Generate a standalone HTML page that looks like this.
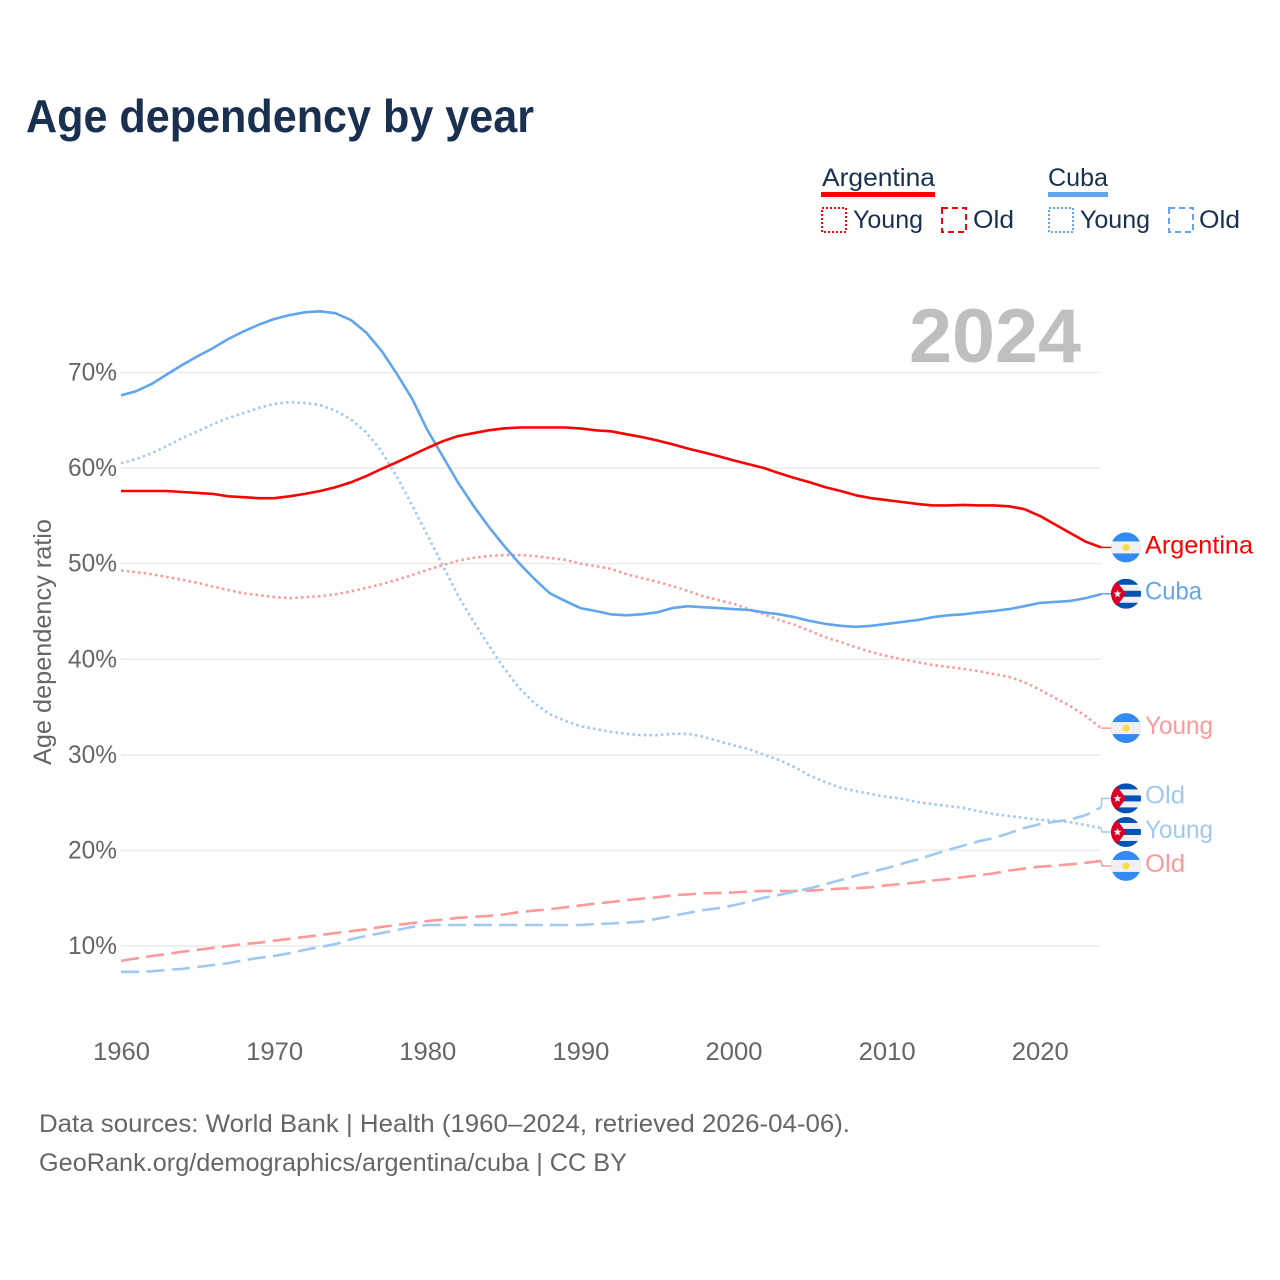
<!DOCTYPE html>
<html lang="en">
<head>
<meta charset="utf-8">
<title>Age dependency by year</title>
<style>
html,body{margin:0;padding:0;background:#fff;}
svg{display:block;}
text{font-family:"Liberation Sans",Arial,sans-serif;}
</style>
</head>
<body>
<svg id="chart" xmlns="http://www.w3.org/2000/svg" width="1280" height="1280" viewBox="0 0 1280 1280">
  <defs>
    <clipPath id="flag-clip"><circle cx="0" cy="0" r="15"></circle></clipPath>
    <g id="flag-ar">
      <g clip-path="url(#flag-clip)">
        <rect x="-15" y="-15" width="30" height="30" fill="#338af3"></rect>
        <rect x="-15" y="-6" width="30" height="12" fill="#f0f0f0"></rect>
        <circle cx="0" cy="0" r="3.6" fill="#ffda44"></circle>
      </g>
    </g>
    <g id="flag-cu">
      <g clip-path="url(#flag-clip)">
        <rect x="-15" y="-15" width="30" height="30" fill="#f0f0f0"></rect>
        <rect x="-15" y="-15" width="30" height="6" fill="#0052b4"></rect>
        <rect x="-15" y="-3" width="30" height="6" fill="#0052b4"></rect>
        <rect x="-15" y="9" width="30" height="6" fill="#0052b4"></rect>
        <polygon points="-15,-15 -10,-13.5 0,0 -10,13.5 -15,15" fill="#d80027"></polygon>
        <polygon points="-8.5,-4 -7.4,-1.2 -4.6,-1.2 -6.8,0.7 -6,3.6 -8.5,2 -11,3.6 -10.2,0.7 -12.4,-1.2 -9.6,-1.2" fill="#f0f0f0"></polygon>
      </g>
    </g>
  </defs>

  <text x="26" y="132" font-size="46" font-weight="700" fill="#1a3050" textLength="508" lengthAdjust="spacingAndGlyphs">Age dependency by year</text>

  <g font-size="25" fill="#1a3050">
    <text x="822" y="186" textLength="113" lengthAdjust="spacingAndGlyphs">Argentina</text>
    <rect x="821" y="192" width="114" height="5" fill="#ff0000"></rect>
    <rect x="822" y="208" width="24" height="24" fill="none" stroke="#ff0000" stroke-width="2" stroke-dasharray="2 2"></rect>
    <text x="853" y="228" textLength="70" lengthAdjust="spacingAndGlyphs">Young</text>
    <rect x="942" y="208" width="24" height="24" fill="none" stroke="#ff0000" stroke-width="2" stroke-dasharray="6 4"></rect>
    <text x="973" y="228" textLength="41" lengthAdjust="spacingAndGlyphs">Old</text>
    <text x="1048" y="186" textLength="60" lengthAdjust="spacingAndGlyphs">Cuba</text>
    <rect x="1048" y="192" width="60" height="5" fill="#60a5ee"></rect>
    <rect x="1049" y="208" width="24" height="24" fill="none" stroke="#60a5ee" stroke-width="2" stroke-dasharray="2 2"></rect>
    <text x="1080" y="228" textLength="70" lengthAdjust="spacingAndGlyphs">Young</text>
    <rect x="1169" y="208" width="24" height="24" fill="none" stroke="#60a5ee" stroke-width="2" stroke-dasharray="6 4"></rect>
    <text x="1199" y="228" textLength="41" lengthAdjust="spacingAndGlyphs">Old</text>
  </g>

  <g id="grid"></g>

  <text x="909" y="362" font-size="76" font-weight="700" fill="#bfbfbf" textLength="172" lengthAdjust="spacingAndGlyphs">2024</text>

  <g id="y-ticks"></g>
  <g id="x-ticks"></g>
  <text transform="translate(51,765) rotate(-90)" font-size="25" fill="#666666" textLength="246" lengthAdjust="spacingAndGlyphs">Age dependency ratio</text>

  <g id="series"></g>
  <g id="end-labels"></g>

  <text x="39" y="1132" font-size="25" fill="#666666" textLength="811" lengthAdjust="spacingAndGlyphs">Data sources: World Bank | Health (1960–2024, retrieved 2026-04-06).</text>
  <text x="39" y="1171" font-size="25" fill="#666666" textLength="588" lengthAdjust="spacingAndGlyphs">GeoRank.org/demographics/argentina/cuba | CC BY</text>
</svg>

<script>
const startYear = 1960;
const xTickYears = [1960, 1970, 1980, 1990, 2000, 2010, 2020];
const yTickValues = [10, 20, 30, 40, 50, 60, 70];

const argentinaTotal = [
  57.6,57.6,57.6,57.6,57.5,57.4,57.3,57.05,56.95,56.85,
  56.85,57.05,57.3,57.6,58.0,58.5,59.15,59.9,60.6,61.35,
  62.1,62.8,63.35,63.65,63.95,64.15,64.25,64.25,64.25,64.25,
  64.15,63.95,63.85,63.55,63.25,62.9,62.5,62.05,61.65,61.25,
  60.8,60.4,60.0,59.45,58.95,58.5,58.0,57.6,57.15,56.85,
  56.65,56.45,56.25,56.1,56.1,56.15,56.1,56.1,56.0,55.7,
  55.0,54.1,53.2,52.3,51.7
];
const argentinaYoung = [
  49.3,49.1,48.9,48.6,48.3,48.0,47.6,47.25,46.9,46.7,
  46.5,46.4,46.5,46.6,46.8,47.1,47.45,47.85,48.3,48.8,
  49.35,49.85,50.3,50.6,50.8,50.9,50.9,50.8,50.6,50.4,
  50.0,49.75,49.45,48.9,48.5,48.1,47.65,47.15,46.6,46.2,
  45.8,45.25,44.7,44.1,43.6,42.95,42.3,41.8,41.25,40.75,
  40.35,40.0,39.7,39.4,39.2,39.0,38.75,38.45,38.15,37.6,
  36.8,35.95,35.1,34.05,32.8
];
const argentinaOld = [
  8.45,8.7,8.95,9.15,9.4,9.6,9.8,10.0,10.2,10.35,
  10.55,10.75,10.95,11.15,11.35,11.55,11.75,12.0,12.2,12.4,
  12.6,12.75,12.95,13.05,13.15,13.3,13.55,13.7,13.85,14.05,
  14.25,14.45,14.6,14.8,14.95,15.1,15.3,15.4,15.5,15.55,
  15.6,15.7,15.75,15.75,15.75,15.8,15.9,16.0,16.05,16.15,
  16.35,16.5,16.65,16.85,17.0,17.2,17.4,17.6,17.9,18.1,
  18.3,18.4,18.55,18.7,18.9
];
const cubaTotal = [
  67.6,68.05,68.8,69.8,70.8,71.7,72.55,73.5,74.3,75.0,
  75.6,76.0,76.3,76.4,76.2,75.5,74.2,72.3,69.9,67.3,
  64.0,61.25,58.5,56.1,53.9,51.9,50.05,48.4,46.9,46.1,
  45.35,45.05,44.7,44.6,44.7,44.9,45.35,45.55,45.45,45.35,
  45.25,45.15,44.9,44.7,44.4,44.0,43.7,43.5,43.4,43.5,
  43.7,43.9,44.1,44.4,44.6,44.7,44.9,45.05,45.25,45.55,
  45.9,46.0,46.1,46.4,46.8
];
const cubaYoung = [
  60.5,60.95,61.55,62.3,63.15,63.85,64.6,65.25,65.75,66.3,
  66.7,66.9,66.8,66.6,66.0,65.1,63.75,61.8,59.15,56.15,
  53.0,49.85,46.7,44.0,41.5,39.1,37.0,35.4,34.25,33.55,
  33.0,32.7,32.4,32.2,32.05,32.05,32.2,32.2,31.9,31.45,
  31.0,30.6,30.0,29.45,28.7,27.8,27.15,26.55,26.2,25.9,
  25.6,25.4,25.05,24.85,24.65,24.45,24.1,23.8,23.6,23.4,
  23.2,23.1,22.95,22.65,22.35
];
const cubaOld = [
  7.3,7.3,7.35,7.5,7.6,7.8,8.0,8.2,8.5,8.75,
  8.95,9.25,9.6,9.9,10.2,10.7,11.05,11.35,11.65,12.0,
  12.2,12.2,12.2,12.2,12.2,12.2,12.2,12.2,12.2,12.2,
  12.2,12.3,12.35,12.45,12.55,12.85,13.15,13.45,13.75,13.95,
  14.25,14.65,15.05,15.35,15.7,16.05,16.45,16.9,17.35,17.75,
  18.15,18.6,19.05,19.55,20.05,20.5,20.95,21.3,21.8,22.35,
  22.75,23.0,23.25,23.7,24.5
];

const SVG_NS = 'http://www.w3.org/2000/svg';
const x0 = 121, pxPerYear = 980 / 64;
const y10 = 946, pxPerPct = 573.5 / 60;
function xScale(year) { return x0 + (year - startYear) * pxPerYear; }
function yScale(pct) { return y10 - (pct - 10) * pxPerPct; }
function make(tag, attrs, parent) {
  const el = document.createElementNS(SVG_NS, tag);
  for (const k in attrs) el.setAttribute(k, attrs[k]);
  parent.appendChild(el);
  return el;
}

const gridGroup = document.getElementById('grid');
const yTickGroup = document.getElementById('y-ticks');
const xTickGroup = document.getElementById('x-ticks');
const seriesGroup = document.getElementById('series');
const labelGroup = document.getElementById('end-labels');

yTickValues.forEach(function (v) {
  const line = make('line', { x1: x0, x2: 1101, y1: yScale(v), y2: yScale(v), stroke: '#ebebeb', 'stroke-width': 1.5 }, gridGroup);
  
  
  const label = make('text', { x: 68, y: yScale(v) + 8, 'font-size': 25, fill: '#666666', textLength: 49, lengthAdjust: 'spacingAndGlyphs' }, yTickGroup);
  label.textContent = v + '%';
  
  
});

xTickYears.forEach(function (year) {
  const label = make('text', { x: xScale(year) + 0.5, y: 1060, 'font-size': 25, fill: '#666666', 'text-anchor': 'middle', textLength: 57, lengthAdjust: 'spacingAndGlyphs' }, xTickGroup);
  label.textContent = String(year);
  
  
});

const RED = '#ff0000', BLUE = '#60a5ee', RED_LIGHT = '#ff9999', BLUE_LIGHT = '#a0c8f0';
const DOT = '2.5 3.2', DASH = '18 7.5';
const seriesList = [
  { id: 'argentina-young', values: argentinaYoung, color: RED_LIGHT, dash: DOT, flag: '#flag-ar', label: 'Young', nudge: 0, textDy: 6, width: 68 },
  { id: 'argentina-old', values: argentinaOld, color: RED_LIGHT, dash: DASH, flag: '#flag-ar', label: 'Old', nudge: 5, textDy: 6, width: 40 },
  { id: 'cuba-young', values: cubaYoung, color: BLUE_LIGHT, dash: DOT, flag: '#flag-cu', label: 'Young', nudge: 4, textDy: 6, width: 68 },
  { id: 'cuba-old', values: cubaOld, color: BLUE_LIGHT, dash: DASH, flag: '#flag-cu', label: 'Old', nudge: -9, textDy: 5, width: 40 },
  { id: 'cuba-total', values: cubaTotal, color: BLUE, dash: null, flag: '#flag-cu', label: 'Cuba', nudge: -0.5, textDy: 5.5, width: 57 },
  { id: 'argentina-total', values: argentinaTotal, color: RED, dash: null, flag: '#flag-ar', label: 'Argentina', nudge: 0, textDy: 6, width: 108 }
];

seriesList.forEach(function (s) {
  const pts = s.values.map(function (v, i) {
    return xScale(startYear + i).toFixed(1) + ',' + yScale(v).toFixed(1);
  }).join(' ');
  const attrs = { points: pts, fill: 'none', stroke: s.color, 'stroke-width': 2.6, 'stroke-linejoin': 'round' };
  if (s.dash) attrs['stroke-dasharray'] = s.dash;
  const line = make('polyline', attrs, seriesGroup);
  
  

  const lastY = yScale(s.values[s.values.length - 1]);
  const flagY = lastY + s.nudge;
  const conn = make('polyline', { points: '1101,' + lastY.toFixed(1) + ' 1102,' + flagY.toFixed(1) + ' 1111,' + flagY.toFixed(1), fill: 'none', stroke: s.color, 'stroke-width': 1.5 }, labelGroup);
  
  

  const flag = make('use', { href: s.flag, x: 1126, y: flagY }, labelGroup);
  
  

  const text = make('text', { x: 1145, y: flagY + s.textDy, 'font-size': 25, fill: s.color, textLength: s.width, lengthAdjust: 'spacingAndGlyphs' }, labelGroup);
  text.textContent = s.label;
  
  
});
</script>
</body>
</html>
